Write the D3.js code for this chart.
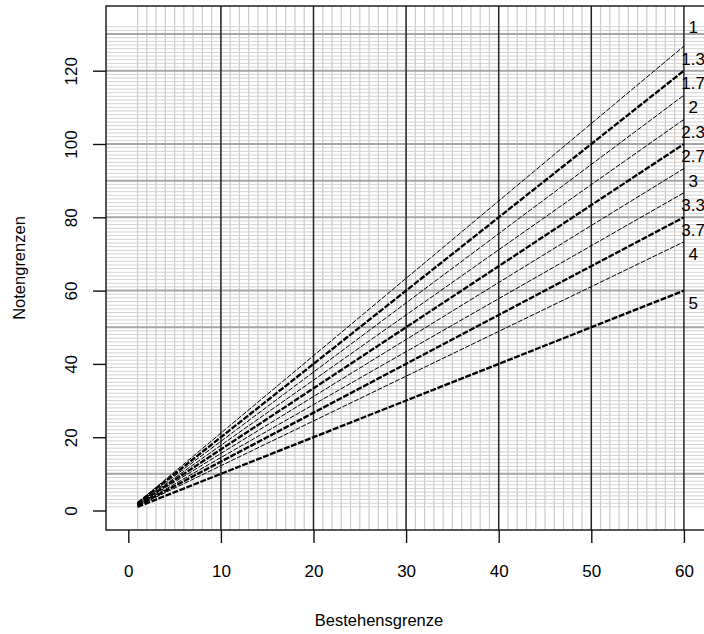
<!DOCTYPE html>
<meta charset="utf-8">
<head>
    <style>
        body { margin: 0; background: #fff; }
        svg text { font-family: "Liberation Sans", Arial, sans-serif; fill: #000; }
    </style>
</head>
<body>
    <svg width="704" height="634"></svg>

    <script src="https://d3js.org/d3.v7.min.js"></script>
    <script type="text/javascript">

        // grade labels and where they sit at the right edge
        var grades = ["1", "1.3", "1.7", "2", "2.3", "2.7", "3", "3.3", "3.7", "4", "5"];
        var gradeLabelX = 61;
        var gradeLabelY = [132, 123.3, 116.7, 110, 103.3, 96.7, 90, 83.3, 76.7, 70, 56.7];

        // boundary lines: value at Bestehensgrenze 1 and at 60
        var lineStartX = 1, lineEndX = 60;
        var lineStart = [2.11, 2, 1.89, 1.78, 1.67, 1.56, 1.44, 1.33, 1.22, 1];
        var lineEnd   = [126.7, 120, 113.3, 106.7, 100, 93.3, 86.7, 80, 73.3, 60];
        var lineBold  = [false, true, false, false, true, false, false, true, false, true];

        var xTicks = [0, 10, 20, 30, 40, 50, 60];
        var yTicks = [0, 20, 40, 60, 80, 100, 120];
        var hMajor = [10, 50, 60, 80, 90, 100, 120, 130];

        var svg = d3.select("svg");

        var x = d3.scaleLinear().domain([0, 60]).range([128.3, 683.9]);
        var y = d3.scaleLinear().domain([0, 120]).range([510.5, 70.7]);

        var box = {left: 106, top: 6, bottom: 530, right: 730};

        svg.append("rect").attr("width", 704).attr("height", 634).attr("fill", "#fff");

        // fine grid
        var g = svg.append("g");
        g.selectAll(".vminor")
            .data(d3.range(1, 60))
            .enter().append("line")
            .attr("x1", function (d) { return x(d); })
            .attr("x2", function (d) { return x(d); })
            .attr("y1", box.top).attr("y2", box.bottom)
            .attr("stroke", "#cbcbcb").attr("stroke-width", 1.2);

        g.selectAll(".hminor")
            .data(d3.range(1, 133))
            .enter().append("line")
            .attr("x1", box.left).attr("x2", box.right)
            .attr("y1", function (d) { return y(d); })
            .attr("y2", function (d) { return y(d); })
            .attr("stroke", "#d2d2d2").attr("stroke-width", 1);

        g.selectAll(".hmajor")
            .data(hMajor)
            .enter().append("line")
            .attr("x1", box.left).attr("x2", box.right)
            .attr("y1", function (d) { return y(d); })
            .attr("y2", function (d) { return y(d); })
            .attr("stroke", "#a6a6a6").attr("stroke-width", 2);

        g.selectAll(".vmajor")
            .data(xTicks.slice(1))
            .enter().append("line")
            .attr("x1", function (d) { return x(d); })
            .attr("x2", function (d) { return x(d); })
            .attr("y1", box.top).attr("y2", box.bottom)
            .attr("stroke", "#262626").attr("stroke-width", 1.5);

        // boundary lines
        svg.append("g")
            .selectAll("line")
            .data(lineEnd)
            .enter().append("line")
            .attr("x1", x(lineStartX))
            .attr("y1", function (d, i) { return y(lineStart[i]); })
            .attr("x2", x(lineEndX))
            .attr("y2", function (d) { return y(d); })
            .attr("stroke", "#000")
            .attr("stroke-width", function (d, i) { return lineBold[i] ? 2.3 : 1; })
            .attr("stroke-dasharray", function (d, i) { return lineBold[i] ? "6,1.5" : "5,1.5"; });

        // box
        svg.append("rect")
            .attr("x", box.left).attr("y", box.top)
            .attr("width", box.right - box.left).attr("height", box.bottom - box.top)
            .attr("fill", "none").attr("stroke", "#111").attr("stroke-width", 1.4);

        // axes
        var xAxis = svg.append("g")
            .attr("transform", "translate(0," + box.bottom + ")")
            .call(d3.axisBottom(x).tickValues(xTicks).tickSize(13).tickSizeOuter(0).tickPadding(22));
        xAxis.select(".domain").remove();
        xAxis.selectAll("line").attr("stroke", "#111").attr("stroke-width", 1.4);
        xAxis.selectAll("text").attr("font-size", "17px").attr("font-family", null);

        var yAxis = svg.append("g")
            .attr("transform", "translate(" + box.left + ",0)")
            .call(d3.axisLeft(y).tickValues(yTicks).tickSize(13).tickSizeOuter(0));
        yAxis.select(".domain").remove();
        yAxis.selectAll("line").attr("stroke", "#111").attr("stroke-width", 1.4);
        yAxis.selectAll("text")
            .attr("font-size", "17px").attr("font-family", null)
            .attr("x", null).attr("dy", null)
            .attr("text-anchor", "middle")
            .attr("transform", "translate(-29,0) rotate(-90)");

        // grade labels
        svg.append("g")
            .selectAll("text")
            .data(grades)
            .enter().append("text")
            .attr("x", x(gradeLabelX))
            .attr("y", function (d, i) { return y(gradeLabelY[i]); })
            .attr("dy", "0.36em")
            .attr("text-anchor", "middle")
            .attr("font-size", "17px")
            .text(function (d) { return d; });

        // axis titles
        svg.append("text")
            .attr("x", 379).attr("y", 626)
            .attr("text-anchor", "middle")
            .attr("font-size", "16.5px")
            .text("Bestehensgrenze");

        svg.append("text")
            .attr("transform", "translate(25," + ((box.top + box.bottom) / 2) + ") rotate(-90)")
            .attr("text-anchor", "middle")
            .attr("font-size", "16.5px")
            .text("Notengrenzen");

    </script>
</body>
